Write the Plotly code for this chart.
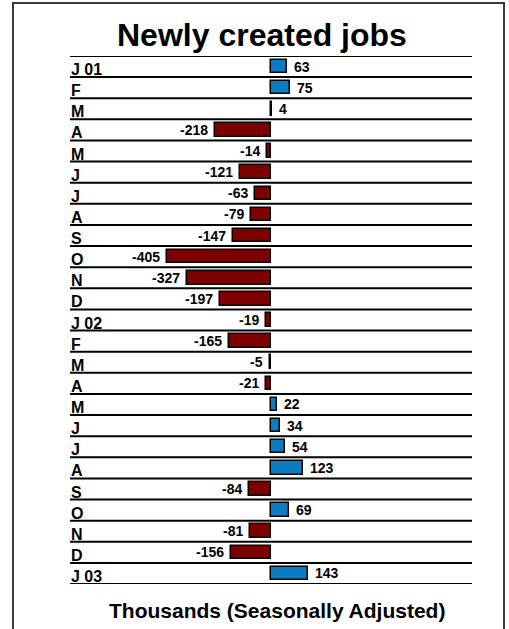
import plotly.graph_objects as go

# Monthly change in payroll jobs, thousands, seasonally adjusted
months = ["J 01", "F", "M", "A", "M", "J", "J", "A", "S", "O", "N", "D",
          "J 02", "F", "M", "A", "M", "J", "J", "A", "S", "O", "N", "D",
          "J 03"]
jobs = [63, 75, 4, -218, -14, -121, -63, -79, -147, -405, -327, -197,
        -19, -165, -5, -21, 22, 34, 54, 123, -84, 69, -81, -156,
        143]

POS_COLOR = "#0a7cc2"
NEG_COLOR = "#7c0000"
FONT = "Liberation Sans, Arial, sans-serif"

# plot-area pixel geometry used to place the frame and captions
W, H = 509, 629
L, R, T, B = 70, 37, 56, 45
PW, PH = W - L - R, H - T - B


def px_x(px):
    return (px - L) / PW


def px_y(py):
    return (H - B - py) / PH


rows = list(range(len(months)))
colors = [POS_COLOR if v >= 0 else NEG_COLOR for v in jobs]

fig = go.Figure(go.Bar(
    x=jobs,
    y=rows,
    orientation="h",
    width=0.64,
    marker=dict(color=colors, line=dict(color="#000000", width=1.5)),
    hoverinfo="skip",
))

shapes = []
# row separator rules
for i in range(len(months) + 1):
    shapes.append(dict(type="line", xref="paper", yref="y",
                       x0=0, x1=1, y0=i - 0.5, y1=i - 0.5,
                       line=dict(color="#000000", width=2)))
# outer frame
shapes.append(dict(type="rect", xref="paper", yref="paper",
                   x0=px_x(13), x1=px_x(504), y0=px_y(640), y1=px_y(3),
                   line=dict(color="#3a3a3a", width=2), layer="below"))

annotations = []
# month labels sitting on the rule beneath each row
for i, m in enumerate(months):
    annotations.append(dict(
        x=0, xref="paper", xanchor="left", xshift=-1,
        y=i + 0.5, yref="y", yanchor="bottom", yshift=-3,
        text=m, showarrow=False,
        font=dict(family=FONT, size=16, color="#000000", weight="bold"),
    ))

# value labels just past the end of each bar
for i, v in enumerate(jobs):
    annotations.append(dict(
        x=v, xref="x", xanchor="left" if v >= 0 else "right",
        xshift=5 if v >= 0 else -5,
        y=i, yref="y", yanchor="middle",
        text=str(v), showarrow=False,
        font=dict(family=FONT, size=14, color="#000000", weight="bold"),
    ))

annotations.append(dict(
    x=px_x(262), xref="paper", xanchor="center",
    y=px_y(35), yref="paper", yanchor="middle",
    text="Newly created jobs", showarrow=False,
    font=dict(family=FONT, size=32, color="#000000", weight="bold"),
))
annotations.append(dict(
    x=px_x(277), xref="paper", xanchor="center",
    y=px_y(610), yref="paper", yanchor="middle",
    text="Thousands (Seasonally Adjusted)", showarrow=False,
    font=dict(family=FONT, size=21, color="#000000", weight="bold"),
))

fig.update_layout(
    width=W, height=H,
    margin=dict(l=L, r=R, t=T, b=B, pad=0),
    paper_bgcolor="#ffffff",
    plot_bgcolor="#ffffff",
    showlegend=False,
    bargap=0,
    shapes=shapes,
    annotations=annotations,
    xaxis=dict(range=[-782, 782], visible=False, fixedrange=True),
    yaxis=dict(range=[len(months) - 0.5, -0.5], visible=False,
               fixedrange=True),
)

fig.write_html("out.html")
